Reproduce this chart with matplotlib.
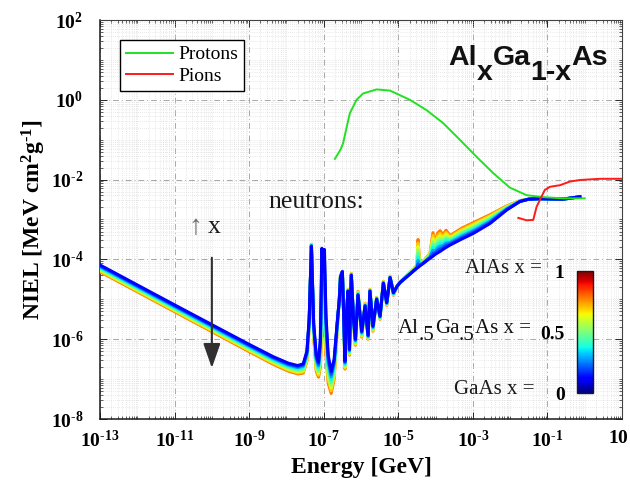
import numpy as np
import matplotlib
matplotlib.use("Agg")
import matplotlib.pyplot as plt
from matplotlib.colors import Normalize
from matplotlib.cm import ScalarMappable
from matplotlib.ticker import FixedLocator, FixedFormatter, NullFormatter
from matplotlib.transforms import ScaledTranslation

# ---------------- data (log10 values) ----------------
# Protons
proton_logE = [-6.70, -6.55, -6.48, -6.40, -6.30, -6.12, -5.94, -5.58, -5.22, -4.69,
               -4.24, -3.79, -3.35, -2.90, -2.45, -2.01, -1.56, -1.11, -0.58, 0.00]
proton_logN = [-1.48, -1.25, -1.09, -0.75, -0.34, -0.00, 0.16, 0.26, 0.23, 0.00,
               -0.26, -0.59, -1.00, -1.43, -1.84, -2.20, -2.39, -2.44, -2.47, -2.47]

# Pions
pion_logE = [-1.78, -1.56, -1.38, -1.29, -1.16, -1.07, -0.93, -0.66, -0.40, -0.13, 0.41, 1.00]
pion_logN = [-2.96, -3.02, -3.01, -2.68, -2.43, -2.26, -2.18, -2.14, -2.05, -2.01, -1.98, -1.98]

# Neutrons: energy grid, GaAs (x = 0) and the Al-rich edge of the band (x = 0.8)
neutron_logE = [-13.00, -11.00, -9.00, -8.35, -7.95, -7.70, -7.55, -7.45, -7.39, -7.35,
                -7.33, -7.31, -7.27, -7.20, -7.14, -7.09, -7.05, -7.01, -6.98, -6.94,
                -6.88, -6.80, -6.72, -6.64, -6.58, -6.55, -6.50, -6.46, -6.43, -6.39,
                -6.35, -6.31, -6.26, -6.20, -6.15, -6.08, -5.98, -5.89, -5.81, -5.76,
                -5.68, -5.58, -5.49, -5.40, -5.31, -5.22, -5.13, -5.03, -4.95, -4.60,
                -4.50, -4.47, -4.43, -4.33, -4.15, -4.07, -4.02, -3.95, -3.88, -3.80,
                -3.72, -3.61, -3.30, -2.99, -2.54, -2.09, -1.74, -1.50, -1.20, -0.58,
                -0.13]
neutron_logN_gaas = [-4.14, -5.14, -6.13, -6.44, -6.60, -6.66, -6.62, -6.30, -5.50, -4.30,
                     -3.67, -4.30, -5.60, -6.40, -6.58, -6.00, -3.72, -4.30, -3.75, -5.40,
                     -6.40, -6.81, -6.50, -5.60, -5.00, -4.45, -4.31, -5.50, -6.55, -5.40,
                     -4.80, -6.25, -4.40, -5.50, -6.00, -4.90, -5.80, -5.17, -5.90, -4.80,
                     -5.67, -5.00, -5.42, -4.60, -5.08, -4.46, -4.83, -4.67, -4.58, -4.30,
                     -4.22, -4.20, -4.17, -4.10, -3.97, -3.92, -3.88, -3.84, -3.80, -3.75,
                     -3.70, -3.64, -3.49, -3.35, -3.10, -2.76, -2.55, -2.49, -2.48, -2.49,
                     -2.43]
neutron_logN_alrich = [-4.31, -5.31, -6.31, -6.63, -6.80, -6.87, -6.85, -6.55, -5.70, -4.30,
                       -3.62, -4.40, -5.90, -6.80, -6.95, -6.70, -5.60, -5.90, -5.70, -6.40,
                       -7.10, -7.36, -7.00, -5.80, -4.95, -4.40, -4.30, -5.60, -6.75, -5.50,
                       -4.75, -6.40, -4.35, -5.60, -6.15, -4.80, -5.95, -5.10, -6.00, -4.75,
                       -5.80, -4.95, -5.50, -4.55, -5.15, -4.42, -4.90, -4.67, -4.56, -4.25,
                       -4.15, -3.50, -4.05, -4.05, -3.85, -3.33, -3.60, -3.35, -3.28, -3.38,
                       -3.27, -3.40, -3.22, -3.08, -2.88, -2.66, -2.53, -2.49, -2.48, -2.49,
                       -2.43]
alrich_x = 0.8
compositions = [0.0, 0.1, 0.2, 0.3, 0.4, 0.5, 0.6, 0.7, 0.8]
# jet colour position used for the x = 0 and x = 0.8 curves as drawn in the chart
curve_color_lo, curve_color_hi = 0.125, 0.78

xtick_exponents = [-13, -11, -9, -7, -5, -3, -1, 1]
xtick_labels = [r'$10^{\text{-}13}$', r'$10^{\text{-}11}$', r'$10^{\text{-}9}$',
                r'$10^{\text{-}7}$', r'$10^{\text{-}5}$', r'$10^{\text{-}3}$',
                r'$10^{\text{-}1}$', r'$10$']
ytick_exponents = [-8, -6, -4, -2, 0, 2]
ytick_labels = [r'$10^{\text{-}8}$', r'$10^{\text{-}6}$', r'$10^{\text{-}4}$',
                r'$10^{\text{-}2}$', r'$10^{0}$', r'$10^{2}$']
cbar_ticks = [0, 0.5, 1]
cbar_labels = ['0', '0.5', '1']

# ---------------- style ----------------
SERIF = 'Liberation Serif'
SANS = 'Liberation Sans'
plt.rcParams['font.family'] = [SERIF, 'DejaVu Serif']
plt.rcParams['mathtext.fontset'] = 'custom'
plt.rcParams['mathtext.rm'] = 'Liberation Serif:bold'
plt.rcParams['mathtext.it'] = 'Liberation Serif:bold'
plt.rcParams['mathtext.bf'] = 'Liberation Serif:bold'

W, H = 630, 486
fig = plt.figure(figsize=(W / 100, H / 100), dpi=100)
fig.patch.set_facecolor('white')
ax = fig.add_axes([100 / W, 1 - 419 / H, 522 / W, 399 / H])

ax.set_xscale('log')
ax.set_yscale('log')
ax.set_xlim(1e-13, 1e1)
ax.set_ylim(1e-8, 1e2)

# neutrons band
E_n = 10.0 ** np.array(neutron_logE)
g = np.array(neutron_logN_gaas)
a = np.array(neutron_logN_alrich)
cmap = plt.get_cmap('jet')
for xc in sorted(compositions, reverse=True):
    w = xc / alrich_x
    col = cmap(curve_color_lo + w * (curve_color_hi - curve_color_lo))
    ax.plot(E_n, 10.0 ** (g + w * (a - g)), color=col, lw=2.2,
            solid_joinstyle='round', zorder=3)

# protons & pions
ax.plot(10.0 ** np.array(proton_logE), 10.0 ** np.array(proton_logN),
        color='#22e022', lw=1.4, label='Protons', zorder=4)
ax.plot(10.0 ** np.array(pion_logE), 10.0 ** np.array(pion_logN),
        color='#ff1a1a', lw=1.4, label='Pions', zorder=4)

# ticks
ax.xaxis.set_major_locator(FixedLocator([10.0 ** e for e in xtick_exponents]))
ax.xaxis.set_major_formatter(FixedFormatter(xtick_labels))
ax.yaxis.set_major_locator(FixedLocator([10.0 ** e for e in ytick_exponents]))
ax.yaxis.set_major_formatter(FixedFormatter(ytick_labels))
minor_x = [k * 10.0 ** n for n in range(-13, 1) for k in range(1, 10)
           if not (k == 1 and n in xtick_exponents)]
minor_y = [k * 10.0 ** n for n in range(-8, 2) for k in range(1, 10)
           if not (k == 1 and n in ytick_exponents)]
ax.xaxis.set_minor_locator(FixedLocator(minor_x))
ax.yaxis.set_minor_locator(FixedLocator(minor_y))
ax.xaxis.set_minor_formatter(NullFormatter())
ax.yaxis.set_minor_formatter(NullFormatter())
ax.tick_params(which='both', direction='in', top=True, right=True, color='#262626')
ax.tick_params(which='major', length=5, width=0.7, labelsize=14)
ax.tick_params(which='minor', length=2.5, width=0.5)
ax.tick_params(axis='y', which='major', pad=12)
ax.tick_params(axis='x', which='major', pad=8)

ax.grid(True, which='major', linestyle=(0, (6, 3, 1, 3)), color='#a8a8a8', lw=0.7)
ax.grid(True, which='minor', linestyle=(0, (1, 2)), color='#d4d4d4', lw=0.5)
ax.set_axisbelow(True)
for side in ['top', 'right']:
    ax.spines[side].set_color('#404040')
    ax.spines[side].set_linewidth(0.8)
for side in ['left', 'bottom']:
    ax.spines[side].set_color('#1a1a1a')
    ax.spines[side].set_linewidth(1.1)

ax.set_xlabel('Energy [GeV]', fontsize=17, fontweight='bold', family=SERIF)
ax.set_ylabel('NIEL [MeV cm$^{2}$g$^{\\text{-}1}$]', fontsize=17, fontweight='bold',
              family=SERIF)
ax.xaxis.set_label_coords(0.5, -0.095)
ax.yaxis.set_label_coords(-0.10, 0.5)

# last x tick label ("10") sits flush with the right edge of the figure
last_tick = ax.xaxis.get_major_ticks()[-1]
last_tick.label1.set_horizontalalignment('right')
last_tick.label1.set_transform(last_tick.label1.get_transform()
                               + ScaledTranslation(0.065, 0, fig.dpi_scale_trans))

leg = ax.legend(loc='upper left', bbox_to_anchor=(20 / 522, 1 - 20 / 399), borderaxespad=0,
                fontsize=14, frameon=True, fancybox=False, edgecolor='black',
                framealpha=1, borderpad=0.3, labelspacing=0.2, handlelength=2.4,
                handletextpad=0.3)
leg.get_frame().set_linewidth(1.0)

# annotations
ax.text(10.0 ** -7.19, 10.0 ** -2.71, 'neutrons:', fontsize=18.5, ha='center',
        va='baseline', family=SERIF, color='#1a1a1a', zorder=5)
ax.text(10.0 ** -10.45, 10.0 ** -3.19, '\u2191', fontsize=20, ha='center', va='center',
        family=[SERIF, 'DejaVu Sans'], color='#707070', zorder=5)
ax.text(10.0 ** -9.95, 10.0 ** -3.19, 'x', fontsize=18.5, ha='center', va='center',
        family=SERIF, color='#1a1a1a', zorder=5)
ax.annotate('', xy=(1e-10, 1.9e-7), xytext=(1e-10, 1.1e-4),
            arrowprops=dict(arrowstyle='-|>,head_length=1.0,head_width=0.35',
                            color='#303030', lw=1.5, mutation_scale=15,
                            shrinkA=0, shrinkB=0), zorder=5)


def chain(pieces, x_px, base_px, size, weight, family):
    """pieces: list of (text, baseline drop in points)."""
    first_txt, first_dy = pieces[0]
    t = fig.text(x_px / W, 1 - base_px / H, first_txt, fontsize=size, fontweight=weight,
                 family=family, ha='left', va='baseline', color='#111111')
    prev, prev_dy = t, first_dy
    for s, dy in pieces[1:]:
        prev = ax.annotate(s, xy=(1, 0), xycoords=prev, xytext=(0, -(dy - prev_dy)),
                           textcoords='offset points', ha='left', va='bottom',
                           fontsize=size, fontweight=weight, family=family,
                           color='#111111', annotation_clip=False)
        prev_dy = dy


# title Al_x Ga_{1-x} As
chain([('Al', 0), ('x', 11), ('Ga', 0), ('1-x', 11), ('As', 0)],
      448, 65, 20.5, 'bold', SANS)

# composition labels
fig.text(542 / W, 1 - 273 / H, 'AlAs x =', fontsize=15, ha='right', va='baseline',
         family=SERIF, color='#1a1a1a')
chain([('Al', 0), ('.5', 5), ('Ga', 0), ('.5', 5), ('As x =', 0)],
      398, 333, 15, 'normal', SERIF)
fig.text(534 / W, 1 - 394 / H, 'GaAs x =', fontsize=15, ha='right', va='baseline',
         family=SERIF, color='#1a1a1a')

# colorbar
cax = fig.add_axes([577 / W, 1 - 393 / H, 16 / W, 122 / H])
sm = ScalarMappable(norm=Normalize(0, 1), cmap=cmap)
cb = fig.colorbar(sm, cax=cax)
cb.set_ticks(cbar_ticks)
cb.set_ticklabels(cbar_labels)
cax.yaxis.set_ticks_position('left')
cax.tick_params(length=0, pad=9, labelsize=14)
for lab in cax.get_yticklabels():
    lab.set_fontweight('bold')
    lab.set_family(SERIF)
cb.outline.set_linewidth(1.0)
cb.outline.set_edgecolor('#1a1a1a')

fig.savefig('out.png', dpi=100)
